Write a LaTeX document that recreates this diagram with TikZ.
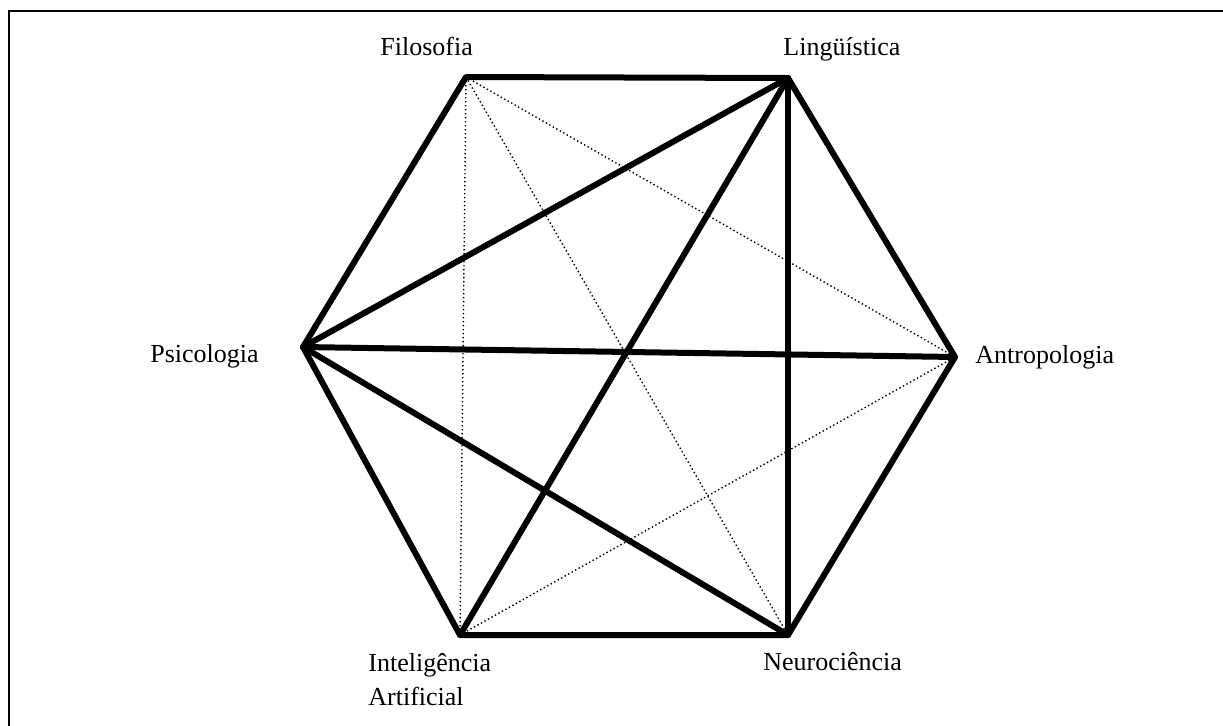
\documentclass[tikz,border=0pt]{standalone}
\usepackage{fontspec}
\setmainfont{Liberation Serif}
\usepackage{tikz}
\usetikzlibrary{positioning}
\tikzset{
  strong/.style={line width=3pt, line cap=round, line join=round},
  faint/.style={line width=0.7pt, dash pattern=on 0.7pt off 1.3pt},
  area/.style={font=\fontsize{13}{17}\selectfont, inner sep=0pt, anchor=base west, align=left}
}

\begin{document}
\begin{tikzpicture}[x=0.5pt, y=-0.5pt]
  \useasboundingbox (0,0) rectangle (1223,725);
  % frame, cut at the right and bottom
  \draw[line width=1pt] (9,740) -- (9,11) -- (1240,11);

  % corners of the hexagon
  \coordinate (fil) at (466,77);
  \coordinate (lin) at (788,78);
  \coordinate (ant) at (955,357);
  \coordinate (neu) at (788,635);
  \coordinate (ia)  at (460,635);
  \coordinate (psi) at (303,347);

  % fields
  \node[area] (filLbl) at (380,55) {Filosofia};
  \node[area] (linLbl) at (783,55) {Lingüística};
  \node[area] (antLbl) at (975,363) {Antropologia};
  \node[area] (neuLbl) at (763,670) {Neurociência};
  \node[area] (iaLbl)  at (368,705) {Inteligência\\Artificial};
  \node[area] (psiLbl) at (150,362) {Psicologia};

  % strong links
  \draw[strong] (fil) -- (lin) -- (ant) -- (neu) -- (ia) -- (psi) -- cycle;
  \draw[strong] (psi) -- (lin);
  \draw[strong] (psi) -- (ant);
  \draw[strong] (psi) -- (neu);
  \draw[strong] (ia) -- (lin);
  \draw[strong] (lin) -- (neu);

  % weak links
  \draw[faint] (fil) -- (ia);
  \draw[faint] (fil) -- (neu);
  \draw[faint] (fil) -- (ant);
  \draw[faint] (ia) -- (ant);
\end{tikzpicture}
\end{document}
